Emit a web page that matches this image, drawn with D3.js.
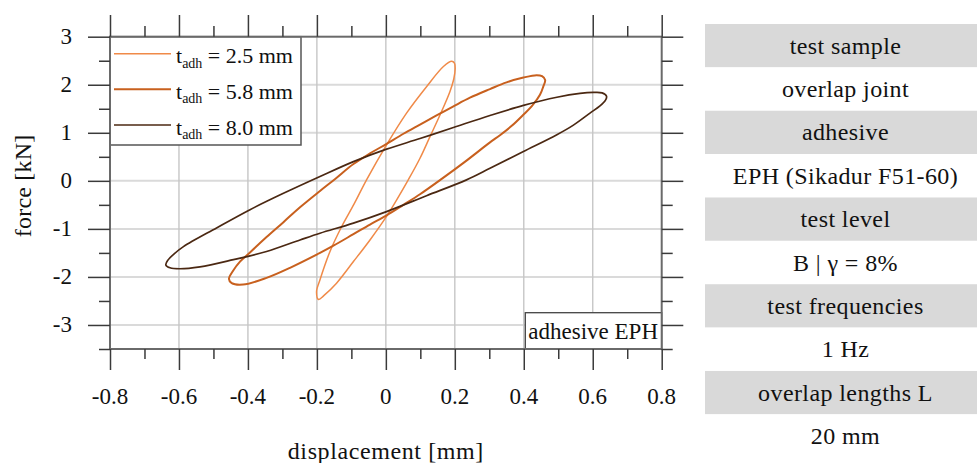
<!DOCTYPE html>
<html>
<head>
<meta charset="utf-8">
<script src="https://cdn.jsdelivr.net/npm/d3@7"></script>
<style>
  body { margin: 0; background: #fff; }
  svg text { font-family: "Liberation Serif", "Times New Roman", serif; fill: #111; }
</style>
</head>
<body>
<div id="chart"></div>
<script>
// chart data
var xMajor = [-0.8, -0.6, -0.4, -0.2, 0, 0.2, 0.4, 0.6, 0.8];
var xMinor = [-0.7, -0.5, -0.3, -0.1, 0.1, 0.3, 0.5, 0.7];
var yMajor = [-3, -2, -1, 0, 1, 2, 3];
var yMinor = [-3.5, -2.5, -1.5, -0.5, 0.5, 1.5, 2.5];
var xGrid = [-0.6, -0.4, -0.2, 0, 0.2, 0.4, 0.6];
var yGrid = [-3, -2, -1, 0, 1, 2];

// t_adh = 2.5 mm  (displacement mm, force kN)
var loop25 = [
  [-0.195, -2.47], [-0.201, -2.31], [-0.191, -2.06], [-0.162, -1.47], [-0.128, -0.95],
  [-0.092, -0.48], [-0.056, 0.02], [0.002, 0.75], [0.060, 1.41], [0.118, 1.96],
  [0.167, 2.38], [0.191, 2.49], [0.199, 2.45], [0.201, 2.34], [0.197, 2.12],
  [0.186, 1.86], [0.157, 1.37], [0.128, 0.92], [0.099, 0.47], [0.065, 0.02],
  [0.031, -0.40], [0.002, -0.74], [-0.046, -1.23], [-0.094, -1.68], [-0.143, -2.13],
  [-0.180, -2.39]
];
// t_adh = 5.8 mm
var loop58 = [
  [-0.455, -2.04], [-0.443, -1.87], [-0.423, -1.68], [-0.394, -1.49], [-0.346, -1.17],
  [-0.297, -0.86], [-0.249, -0.55], [-0.191, -0.21], [-0.147, 0.04], [-0.094, 0.35],
  [-0.046, 0.57], [0.002, 0.77], [0.051, 0.98], [0.099, 1.17], [0.147, 1.36],
  [0.196, 1.55], [0.244, 1.73], [0.302, 1.91], [0.350, 2.05], [0.399, 2.15],
  [0.437, 2.20], [0.453, 2.18], [0.462, 2.10], [0.457, 1.97], [0.447, 1.79],
  [0.424, 1.56], [0.398, 1.37], [0.366, 1.15], [0.331, 0.95], [0.302, 0.80],
  [0.230, 0.40], [0.162, 0.04], [0.099, -0.28], [0.051, -0.50], [0.002, -0.72],
  [-0.046, -0.91], [-0.094, -1.11], [-0.152, -1.35], [-0.191, -1.50], [-0.278, -1.81],
  [-0.346, -2.02], [-0.414, -2.16], [-0.447, -2.13]
];
// t_adh = 8.0 mm
var loop80 = [
  [-0.638, -1.75], [-0.632, -1.65], [-0.614, -1.52], [-0.587, -1.37], [-0.491, -0.98],
  [-0.394, -0.60], [-0.297, -0.26], [-0.191, 0.09], [-0.094, 0.40], [0.002, 0.66],
  [0.099, 0.88], [0.196, 1.11], [0.302, 1.36], [0.399, 1.57], [0.496, 1.74],
  [0.563, 1.82], [0.602, 1.84], [0.627, 1.83], [0.640, 1.76], [0.637, 1.68],
  [0.621, 1.56], [0.592, 1.41], [0.544, 1.16], [0.496, 0.96], [0.399, 0.61],
  [0.302, 0.26], [0.234, 0.02], [0.118, -0.31], [0.002, -0.64], [-0.094, -0.88],
  [-0.191, -1.09], [-0.249, -1.23], [-0.346, -1.47], [-0.442, -1.64], [-0.539, -1.79],
  [-0.597, -1.83], [-0.626, -1.81]
];

var seriesNames = ["2.5 mm", "5.8 mm", "8.0 mm"];
var seriesColors = ["#f08a48", "#c8601e", "#4b2812"];
var seriesWidths = [1.5, 2, 1.7];

var tableRows = [
  "test sample", "overlap joint", "adhesive", "EPH (Sikadur F51-60)", "test level",
  "B | \u03b3 = 8%", "test frequencies", "1 Hz", "overlap lengths L", "20 mm"
];

// layout
var svgWidth = 977;
var svgHeight = 463;
var plot = { left: 110, top: 36.7, right: 661.7, bottom: 349 };

var svg = d3.select("#chart").append("svg")
  .attr("width", svgWidth)
  .attr("height", svgHeight);

var x = d3.scaleLinear().domain([-0.8, 0.8]).range([plot.left, plot.right]);
var y = d3.scaleLinear().domain([-3.5, 3]).range([plot.bottom, plot.top]);

// grid
svg.append("g").selectAll("line")
  .data(yGrid).enter().append("line")
  .attr("x1", plot.left).attr("x2", plot.right)
  .attr("y1", d => y(d)).attr("y2", d => y(d))
  .attr("stroke", "#dadada").attr("stroke-width", 2);
svg.append("g").selectAll("line")
  .data(xGrid).enter().append("line")
  .attr("y1", plot.top).attr("y2", plot.bottom)
  .attr("x1", d => x(d)).attr("x2", d => x(d))
  .attr("stroke", "#c6c6c6").attr("stroke-width", 1.4);

// loops
var line = d3.line()
  .x(d => x(d[0]))
  .y(d => y(d[1]))
  .curve(d3.curveCatmullRomClosed.alpha(0.5));

[loop25, loop58, loop80].forEach(function(loop, i) {
  svg.append("path")
    .datum(loop)
    .attr("d", line)
    .attr("fill", "none")
    .attr("stroke", seriesColors[i])
    .attr("stroke-width", seriesWidths[i])
    .attr("stroke-linejoin", "round");
});

// legend
var legend = svg.append("g");
legend.append("rect")
  .attr("x", plot.left).attr("y", plot.top)
  .attr("width", 191).attr("height", 108.3)
  .attr("fill", "#fff").attr("stroke", "#555").attr("stroke-width", 1.5);
seriesNames.forEach(function(name, i) {
  var ly = 53.7 + i * 35.65;
  legend.append("line")
    .attr("x1", 114).attr("x2", 171)
    .attr("y1", ly).attr("y2", ly)
    .attr("stroke", seriesColors[i]).attr("stroke-width", seriesWidths[i]);
  var t = legend.append("text")
    .attr("x", 176).attr("y", ly + 9.5)
    .style("font-size", "22px");
  t.append("tspan").text("t");
  t.append("tspan").text("adh").attr("dy", 4.5).style("font-size", "14px");
  t.append("tspan").text(" = " + name).attr("dy", -4.5);
});

// adhesive label box
svg.append("rect")
  .attr("x", 525.3).attr("y", 312.7)
  .attr("width", plot.right - 525.3).attr("height", plot.bottom - 312.7)
  .attr("fill", "#fff").attr("stroke", "#444").attr("stroke-width", 1.3);
svg.append("text")
  .attr("x", 658).attr("y", 338.5)
  .attr("text-anchor", "end")
  .style("font-size", "23px")
  .text("adhesive EPH");

// frame
svg.append("rect")
  .attr("x", plot.left).attr("y", plot.top)
  .attr("width", plot.right - plot.left).attr("height", plot.bottom - plot.top)
  .attr("fill", "none").attr("stroke", "#6a6a6a").attr("stroke-width", 2);

// ticks
function ticks(axis, values, size, tx, ty) {
  var g = svg.append("g")
    .attr("transform", `translate(${tx}, ${ty})`)
    .call(axis.tickValues(values).tickSize(size).tickFormat(""));
  g.select(".domain").remove();
  g.selectAll(".tick line").attr("stroke", "#3a3a3a").attr("stroke-width", 1.5);
  return g;
}
ticks(d3.axisTop(x), xMajor, 21.7, 0, plot.top);
ticks(d3.axisTop(x), xMinor, 10.7, 0, plot.top);
ticks(d3.axisBottom(x), xMajor, 21, 0, plot.bottom);
ticks(d3.axisBottom(x), xMinor, 10, 0, plot.bottom);
ticks(d3.axisLeft(y), yMajor, 22, plot.left, 0);
ticks(d3.axisLeft(y), yMinor, 11, plot.left, 0);
ticks(d3.axisRight(y), yMajor, 21.6, plot.right, 0);
ticks(d3.axisRight(y), yMinor, 11, plot.right, 0);

// tick labels (plain hyphen for minus, as in the original)
svg.append("g").selectAll("text")
  .data(xMajor).enter().append("text")
  .attr("x", d => x(d)).attr("y", 404)
  .attr("text-anchor", "middle")
  .style("font-size", "23px")
  .text(d => String(d));
svg.append("g").selectAll("text")
  .data(yMajor).enter().append("text")
  .attr("x", 72).attr("y", d => y(d) + 7.5)
  .attr("text-anchor", "end")
  .style("font-size", "23px")
  .text(d => String(d));

// axis titles
svg.append("text")
  .attr("x", (plot.left + plot.right) / 2).attr("y", 459)
  .attr("text-anchor", "middle")
  .style("font-size", "24px")
  .style("letter-spacing", "0.6px")
  .text("displacement [mm]");
svg.append("text")
  .attr("transform", `translate(31, ${y(0) + 5}) rotate(-90)`)
  .attr("text-anchor", "middle")
  .style("font-size", "24px")
  .style("letter-spacing", "0.2px")
  .text("force [kN]");

// info table on the right
var rowH = 43.37;
var table = svg.append("g").attr("transform", "translate(705, 24)");
table.selectAll("rect")
  .data(tableRows).enter().append("rect")
  .attr("x", 0).attr("y", (d, i) => i * rowH)
  .attr("width", 290).attr("height", rowH)
  .attr("fill", (d, i) => i % 2 === 0 ? "#d9d9d9" : "#fff");
table.selectAll("text")
  .data(tableRows).enter().append("text")
  .attr("x", 140.5).attr("y", (d, i) => i * rowH + rowH / 2 + 8)
  .attr("text-anchor", "middle")
  .style("font-size", "24px")
  .style("letter-spacing", "0.4px")
  .text(d => d);
</script>
</body>
</html>
